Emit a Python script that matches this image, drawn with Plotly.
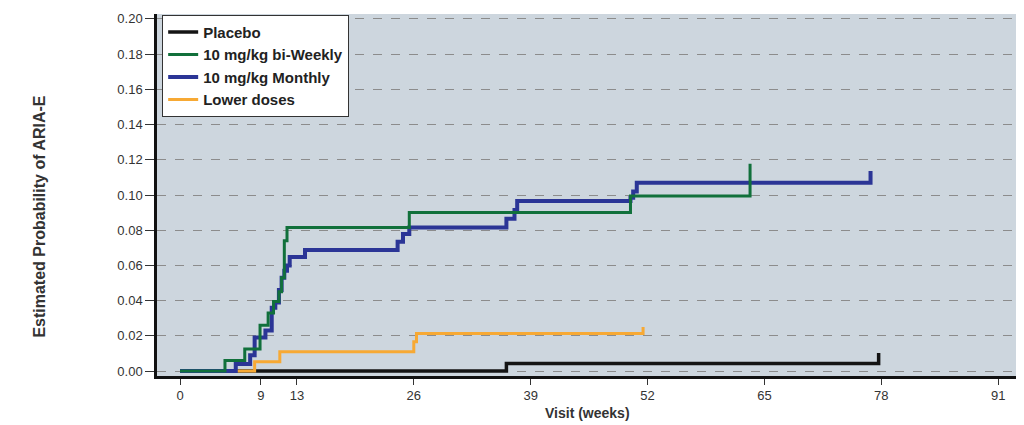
import plotly.graph_objects as go

# ---- data ----
placebo_t = [0, 36.3, 77.7]
placebo_v = [0, 0.0043, 0.0103]

biweekly_t = [0, 5.0, 7.2, 8.9, 9.8, 10.4, 11.0, 11.3, 11.6, 11.9, 25.5, 50.1, 63.4]
biweekly_v = [0, 0.006, 0.0125, 0.026, 0.033, 0.0395, 0.045, 0.053, 0.074, 0.0815, 0.090, 0.0995, 0.1177]

monthly_t = [0, 6.2, 7.8, 8.3, 9.5, 10.2, 10.6, 11.0, 11.3, 11.6, 11.9, 12.2, 13.9,
             24.2, 24.8, 25.5, 36.3, 37.2, 37.5, 50.1, 50.4, 50.8, 76.8]
monthly_v = [0, 0.004, 0.009, 0.019, 0.023, 0.036, 0.039, 0.046, 0.053, 0.057, 0.060, 0.0648, 0.0687,
             0.0735, 0.0778, 0.0815, 0.0865, 0.0915, 0.0966, 0.0985, 0.102, 0.107, 0.1136]

lower_t = [0, 6.5, 8.3, 11.1, 26.0, 26.3, 51.5]
lower_v = [0, 0, 0.0053, 0.011, 0.0166, 0.0213, 0.025]

x_ticks = [0, 9, 13, 26, 39, 52, 65, 78, 91]
y_ticks = [0.00, 0.02, 0.04, 0.06, 0.08, 0.10, 0.12, 0.14, 0.16, 0.18, 0.20]

fig = go.Figure()

series = [
    ("Placebo", placebo_t, placebo_v, "#141414", 3.5, 1),
    ("Lower doses", lower_t, lower_v, "#f7a934", 3, 4),
    ("10 mg/kg Monthly", monthly_t, monthly_v, "#2b3596", 4, 3),
    ("10 mg/kg bi-Weekly", biweekly_t, biweekly_v, "#11703b", 3, 2),
]
for name, t, v, col, w, rank in series:
    fig.add_trace(go.Scatter(
        x=t, y=v, mode="lines", name="<b>" + name + "</b>",
        line=dict(color=col, width=w, shape="hv"),
        legendrank=rank,
    ))

# page body has an 8px margin: figure is sized so the plot lands where the reference has it
fig.update_layout(
    width=1016, height=417,
    margin=dict(l=149, r=6, t=4, b=49),
    paper_bgcolor="white",
    plot_bgcolor="#cdd6de",
    showlegend=True,
    legend=dict(
        x=0.006, y=0.998, xanchor="left", yanchor="top",
        bgcolor="white", bordercolor="#333333", borderwidth=1,
        font=dict(family="Liberation Sans, Arial, sans-serif", size=15, color="#222222"),
        tracegroupgap=0, itemwidth=30,
    ),
    font=dict(family="Liberation Sans, Arial, sans-serif", color="#333333"),
)

fig.update_xaxes(
    range=[-2.56, 93.2],
    tickmode="array", tickvals=x_ticks, ticktext=[str(t) for t in x_ticks],
    ticks="outside", ticklen=6, tickcolor="#333333", tickwidth=1,
    tickfont=dict(family="Liberation Sans Narrow, Arial Narrow, Liberation Sans, sans-serif", size=13, color="#333333"),
    showgrid=False, zeroline=False,
    showline=True, linecolor="#111111", linewidth=2.5,
)
fig.update_yaxes(
    range=[-0.0028, 0.2028],
    tickmode="array", tickvals=y_ticks, ticktext=[f"{t:.2f}" for t in y_ticks],
    ticks="outside", ticklen=9, tickcolor="#333333", tickwidth=1,
    tickfont=dict(family="Liberation Sans, Arial, sans-serif", size=13, color="#333333"),
    showgrid=True, gridcolor="#8c8c8c", gridwidth=1, griddash="dash",
    zeroline=False,
    showline=True, linecolor="#111111", linewidth=2.5,
)

fig.add_annotation(
    text="<b>Estimated Probability of ARIA-E</b>",
    xref="paper", yref="paper", x=-0.136, y=0.44,
    xanchor="center", yanchor="middle", textangle=-90, showarrow=False,
    font=dict(family="Liberation Sans, Arial, sans-serif", size=16, color="#333333"),
)
fig.add_annotation(
    text="<b>Visit (weeks)</b>",
    xref="paper", yref="paper", x=0.5, y=-0.102,
    xanchor="center", yanchor="middle", showarrow=False,
    font=dict(family="Liberation Sans Narrow, Arial Narrow, Liberation Sans, sans-serif", size=14, color="#333333"),
)

fig.write_html("out.html")
